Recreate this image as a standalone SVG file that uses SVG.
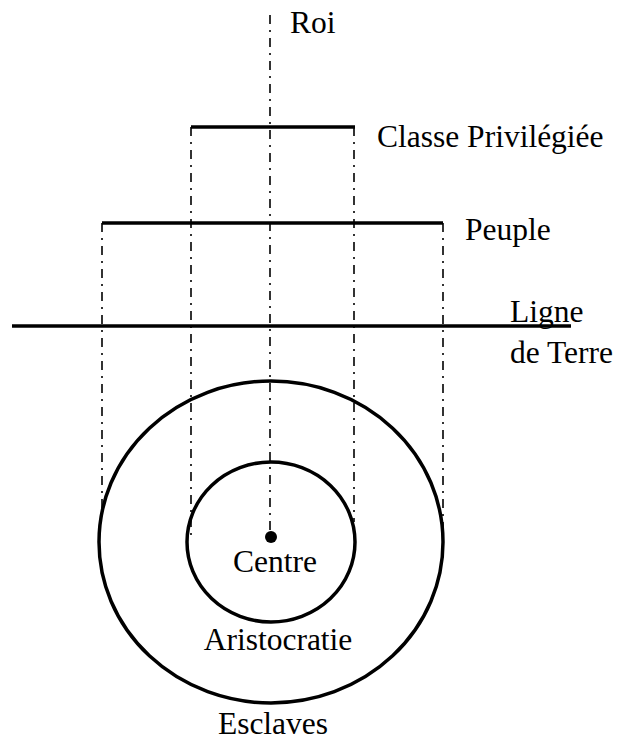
<svg xmlns="http://www.w3.org/2000/svg" width="618" height="741" viewBox="0 0 618 741">
<style>
.dd{stroke:#000;stroke-width:1.6;stroke-dasharray:9 6 2 6;fill:none}
.sol{stroke:#000;stroke-width:3.5;fill:none}
.t{font-family:"Liberation Serif","Times New Roman",serif;font-size:31.5px;fill:#000}
</style>
<rect width="618" height="741" fill="#fff"/>
<g id="connectors">
<line class="dd" x1="270" y1="15" x2="270" y2="535"/>
<line class="dd" x1="191" y1="127" x2="191" y2="540"/>
<line class="dd" x1="354" y1="127" x2="354" y2="522"/>
<line class="dd" x1="102" y1="223" x2="102" y2="520"/>
<line class="dd" x1="443" y1="223" x2="443" y2="530"/>
</g>
<g id="roi"><text class="t" x="290" y="33">Roi</text></g>
<g id="classe"><line class="sol" x1="191" y1="127" x2="355" y2="127"/><text class="t" x="377" y="147">Classe Privilégiée</text></g>
<g id="peuple"><line class="sol" x1="102" y1="223" x2="443" y2="223"/><text class="t" x="465" y="240">Peuple</text></g>
<g id="terre"><line class="sol" x1="12" y1="326" x2="571" y2="326"/><text class="t" x="510" y="322">Ligne</text><text class="t" x="510" y="363">de Terre</text></g>
<g id="esclaves"><ellipse class="sol" cx="271" cy="542" rx="172" ry="161"/><text class="t" x="273" y="734" text-anchor="middle">Esclaves</text></g>
<g id="aristocratie"><ellipse class="sol" cx="271" cy="542" rx="84" ry="80"/><text class="t" x="278" y="650" text-anchor="middle">Aristocratie</text></g>
<g id="centre"><circle cx="271" cy="537" r="6" fill="#000"/><text class="t" x="275" y="572" text-anchor="middle">Centre</text></g>
</svg>
